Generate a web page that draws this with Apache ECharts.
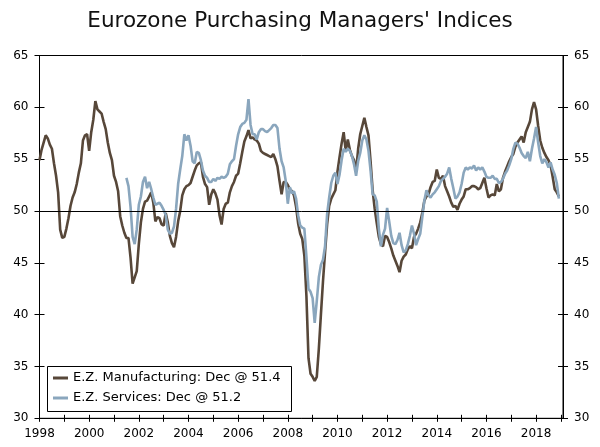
<!DOCTYPE html>
<html>
<head>
<meta charset="utf-8">
<title>Eurozone Purchasing Managers' Indices</title>
<script src="https://cdn.jsdelivr.net/npm/echarts@6/dist/echarts.min.js"></script>
<style>
  html, body { margin: 0; padding: 0; background: #fff; }
  #chart { width: 600px; height: 447px; }
</style>
</head>
<body>
<div id="chart"></div>
<script>
// monthly PMI readings, manufacturing Jan 1998 - Dec 2018
var mfgStart = '1998-01';
var manufacturing = [
    54.9, 55.9, 56.6, 57.3, 57.0, 56.4, 56.0, 54.6, 53.4, 51.8, 48.2, 47.4,
    47.5, 48.3, 49.3, 50.5, 51.3, 51.8, 52.6, 53.7, 54.6, 56.8, 57.3, 57.4,
    55.8, 57.6, 58.8, 60.6, 59.8, 59.6, 59.4, 58.6, 57.9, 56.6, 55.6, 54.9,
    53.4, 52.8, 51.9, 49.5, 48.6, 47.9, 47.4, 47.4, 45.5, 43.0, 43.6, 44.2,
    46.8, 48.9, 50.2, 50.9, 51.0, 51.4, 51.8, 50.8, 49.0, 49.4, 49.3, 48.7,
    48.6, 49.8, 48.9, 47.6, 46.9, 46.5, 47.5, 49.0, 50.0, 51.5, 52.1, 52.4,
    52.5, 52.7, 53.3, 53.9, 54.4, 54.6, 54.7, 53.3, 52.6, 52.3, 50.6, 51.6,
    52.1, 51.7, 51.1, 49.6, 48.7, 50.2, 50.7, 50.8, 51.8, 52.4, 52.8, 53.4,
    53.6, 54.6, 55.7, 56.7, 57.2, 57.8, 57.0, 57.1, 56.9, 56.8, 56.5, 55.8,
    55.6, 55.5, 55.4, 55.3, 55.2, 55.5, 55.0, 54.3, 52.9, 51.6, 52.8, 52.8,
    52.5, 52.1, 51.9, 51.5, 50.4, 48.8, 47.8, 47.3, 45.7, 41.8, 35.8, 34.3,
    34.0, 33.6, 34.0, 36.7, 40.0, 43.2, 46.0, 48.7, 50.5, 51.2, 51.6, 52.0,
    53.8, 55.2, 56.5, 57.6, 55.8, 56.9, 55.9, 55.3, 54.9, 53.8, 56.0, 57.4,
    58.2, 59.0, 58.1, 57.3, 54.8, 52.0, 50.2, 48.8, 47.5, 46.8, 46.6, 47.6,
    47.5, 47.0, 46.4, 45.7, 45.2, 44.7, 44.1, 45.2, 45.6, 45.8, 46.3, 46.6,
    46.4, 47.5, 47.8, 48.3, 48.9, 49.8, 51.0, 51.4, 51.6, 52.3, 52.8, 52.9,
    54.0, 53.2, 53.1, 53.4, 52.4, 51.9, 51.4, 50.8, 50.4, 50.5, 50.1, 50.7,
    51.1, 51.4, 52.1, 52.1, 52.2, 52.4, 52.4, 52.3, 52.1, 52.2, 52.7, 53.2,
    52.2, 51.3, 51.5, 51.6, 51.5, 52.6, 51.9, 52.1, 53.2, 53.8, 54.3, 54.8,
    55.2, 55.5, 56.2, 56.6, 56.9, 57.2, 56.6, 57.6, 58.1, 58.6, 59.8, 60.5,
    59.8, 58.2, 56.8, 56.1, 55.6, 55.2, 54.9, 54.4, 53.3, 52.1, 51.8, 51.4
];

// services series starts Jul 2001
var svcStart = '2001-07';
var services = [
                                    53.2, 52.4, 50.4, 47.5, 46.8, 48.2,
    50.6, 51.4, 52.8, 53.3, 52.2, 52.8, 52.1, 51.3, 50.6, 50.7, 50.8, 50.5,
    50.1, 49.6, 48.2, 47.8, 47.9, 48.5, 50.2, 52.6, 54.0, 55.3, 57.4, 56.8,
    57.3, 56.3, 54.8, 54.6, 55.7, 55.6, 54.9, 53.9, 53.4, 53.2, 52.8, 52.8,
    53.1, 52.9, 53.2, 53.1, 53.3, 53.2, 53.3, 53.6, 54.5, 54.8, 55.0, 56.3,
    57.4, 58.1, 58.4, 58.5, 58.8, 60.8, 58.3, 57.4, 57.4, 56.9, 57.6, 57.9,
    57.9, 57.7, 57.6, 57.8, 58.0, 58.3, 58.3, 58.0, 56.0, 54.8, 54.2, 52.9,
    50.7, 52.3, 51.7, 51.9, 51.2, 49.6, 48.6, 48.4, 48.3, 45.6, 42.5, 42.2,
    41.6, 39.2, 41.3, 43.6, 44.8, 45.3, 46.6, 49.7, 51.3, 52.7, 53.4, 53.7,
    52.6, 53.5, 54.9, 56.0, 55.7, 56.0, 55.8, 55.3, 54.5, 53.4, 54.8, 55.6,
    56.8, 57.3, 56.9, 55.8, 53.9, 51.6, 51.5, 50.9, 48.3, 46.6, 47.7, 48.3,
    50.3, 49.0, 47.6, 46.9, 46.8, 47.2, 47.9, 46.7, 46.0, 46.2, 46.8, 47.6,
    48.6, 47.8, 46.7, 47.3, 47.8, 49.4, 51.0, 52.0, 51.5, 51.3, 51.6, 51.8,
    52.1, 52.4, 52.9, 53.1, 53.3, 53.6, 54.2, 53.1, 52.2, 51.2, 51.4, 51.8,
    52.6, 53.7, 54.2, 54.0, 54.2, 54.1, 54.4, 53.9, 54.2, 54.0, 54.2, 53.8,
    53.3, 53.2, 53.2, 53.4, 53.1, 53.1, 52.7, 52.8, 53.1, 53.6, 53.9, 54.4,
    55.0, 56.0, 56.6, 56.5, 56.1, 55.6, 55.3, 55.1, 55.7, 54.8, 56.0, 57.0,
    58.1, 56.6, 55.3, 54.6, 55.0, 54.7, 54.2, 54.7, 54.0, 53.5, 52.7, 51.2
];

var seriesNames = ['E.Z. Manufacturing: Dec @ 51.4', 'E.Z. Services: Dec @ 51.2'];
var yMin = 30, yMax = 65, yStep = 5;
var refLevel = 50;

// month categories Jan 1998 .. Feb 2019 (axis runs a little past 2019)
var months = [];
for (var y = 1998; y <= 2019; y++) {
    for (var m = 1; m <= 12; m++) {
        if (y === 2019 && m > 2) break;
        months.push(y + '-' + (m < 10 ? '0' + m : m));
    }
}

function alignTo(start, values) {
    var off = months.indexOf(start);
    return months.map(function (d, i) {
        var v = values[i - off];
        return v === undefined ? null : v;
    });
}

var isJan = function (idx, val) { return val.slice(5) === '01'; };
var font = 'DejaVu Sans';

var chart = echarts.init(document.getElementById('chart'));
var option = {
    animation: false,
    backgroundColor: '#fff',
    title: {
        text: "Eurozone Purchasing Managers' Indices",
        left: 'center',
        top: 5,
        textStyle: {fontFamily: font, fontWeight: 'normal', fontSize: 21.5, color: '#111'}
    },
    grid: {
        left: 39.5, right: 37, top: 55.5, bottom: 28.7,
        show: true, borderColor: '#000', borderWidth: 1
    },
    graphic: [{
        type: 'rect', z: 5,
        shape: {x: 47.5, y: 366.5, width: 244, height: 45},
        style: {fill: '#fff', stroke: '#000', lineWidth: 1}
    }],
    legend: {
        z: 10,
        orient: 'vertical',
        left: 53, top: 371,
        padding: 0,
        itemGap: 6,
        itemWidth: 15, itemHeight: 3,
        icon: 'rect',
        textStyle: {fontFamily: font, fontSize: 13, color: '#000', lineHeight: 14},
        data: seriesNames
    },
    xAxis: [{
        type: 'category',
        data: months,
        boundaryGap: false,
        axisLine: {lineStyle: {color: '#000', width: 1}},
        axisTick: {interval: isJan, length: 3.5, lineStyle: {color: '#000'}},
        axisLabel: {
            interval: function (idx, val) { return isJan(idx, val) && (+val.slice(0, 4)) % 2 === 0; },
            formatter: function (val) { return val.slice(0, 4); },
            margin: 10, color: '#000', fontFamily: font, fontSize: 12
        },
        splitLine: {show: false}
    }, {
        type: 'category',
        position: 'bottom',
        data: months,
        boundaryGap: false,
        axisLine: {show: false},
        axisTick: {interval: isJan, inside: true, length: 3.5, lineStyle: {color: '#000'}},
        axisLabel: {show: false},
        splitLine: {show: false}
    }],
    yAxis: [0, 1, 2, 3].map(function (k) {
        return {
            type: 'value',
            position: k % 2 === 0 ? 'left' : 'right',
            min: yMin, max: yMax, interval: yStep,
            axisLine: {show: k < 2, lineStyle: {color: '#000', width: 1}},
            axisTick: {show: true, inside: k >= 2, length: 5, lineStyle: {color: '#000'}},
            axisLabel: {
                show: k < 2, margin: 11, color: '#000', fontFamily: font, fontSize: 12
            },
            splitLine: {show: false}
        };
    }),
    series: [{
        name: seriesNames[0],
        type: 'line',
        data: alignTo(mfgStart, manufacturing),
        showSymbol: false,
        symbol: 'none',
        lineStyle: {color: '#574739', width: 2.6},
        itemStyle: {color: '#574739'}
    }, {
        name: seriesNames[1],
        type: 'line',
        data: alignTo(svcStart, services),
        showSymbol: false,
        symbol: 'none',
        lineStyle: {color: '#8aa6bd', width: 2.6},
        itemStyle: {color: '#8aa6bd'},
        markLine: {
            silent: true,
            symbol: 'none',
            label: {show: false},
            lineStyle: {color: '#000', width: 1, type: 'solid'},
            data: [{yAxis: refLevel}]
        }
    }]
};
chart.setOption(option);
</script>
</body>
</html>
